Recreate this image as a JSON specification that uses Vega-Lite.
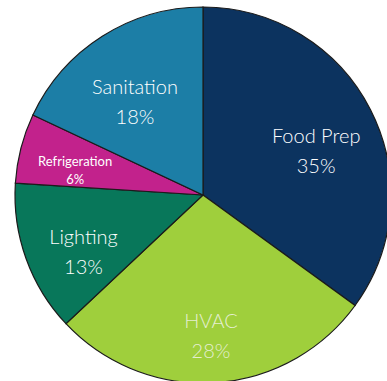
{
  "$schema": "https://vega.github.io/schema/vega-lite/v6.json",
  "width": 406,
  "height": 390,
  "padding": 0,
  "autosize": {"type": "none"},
  "background": "white",
  "config": {"view": {"stroke": null}},
  "data": {
    "values": [
      {"category": "Food Prep", "value": 35, "label": "Food Prep\n35%"},
      {"category": "HVAC", "value": 28, "label": "HVAC\n28%"},
      {"category": "Lighting", "value": 13, "label": "Lighting\n13%"},
      {"category": "Refrigeration", "value": 6, "label": "Refrigeration\n6%"},
      {"category": "Sanitation", "value": 18, "label": "Sanitation\n18%"}
    ]
  },
  "encoding": {
    "theta": {"field": "value", "type": "quantitative", "stack": true},
    "order": {"field": "category", "sort": "ascending"}
  },
  "layer": [
    {
      "mark": {"type": "arc", "outerRadius": 188, "stroke": "#1b1b1b", "strokeWidth": 1.2},
      "encoding": {
        "color": {
          "field": "category",
          "type": "nominal",
          "scale": {
            "domain": ["Food Prep", "HVAC", "Lighting", "Refrigeration", "Sanitation"],
            "range": ["#0c335f", "#9fcf3c", "#08775a", "#c2228c", "#1c7ea6"]
          },
          "legend": null
        }
      }
    },
    {
      "mark": {"type": "text", "radius": 127, "font": "Lato", "fontSize": 20, "fontWeight": 300, "lineBreak": "\n", "lineHeight": 30, "align": "center", "baseline": "middle"},
      "encoding": {
        "text": {"condition": {"test": "datum.category === 'Refrigeration'", "value": ""}, "field": "label"},
        "color": {"condition": {"test": "datum.category === 'HVAC'", "value": "#e4eed0"}, "value": "#ffffff"}
      }
    },
    {
      "mark": {"type": "text", "radius": 132, "font": "Lato", "fontSize": 13, "fontWeight": "normal", "lineBreak": "\n", "lineHeight": 18, "align": "center", "baseline": "middle", "color": "#ffffff"},
      "encoding": {
        "text": {"condition": {"test": "datum.category !== 'Refrigeration'", "value": ""}, "field": "label"}
      }
    }
  ]
}
